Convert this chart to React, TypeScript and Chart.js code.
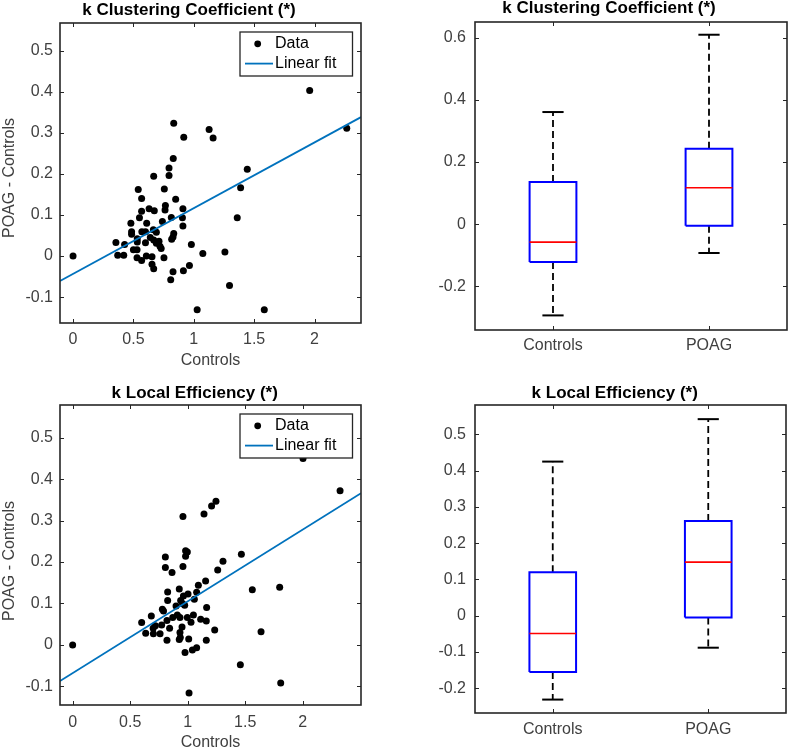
import React, { useEffect, useRef } from 'react';
import { Chart, registerables } from 'chart.js';

Chart.register(...registerables);

const FONT = '"Liberation Sans", Arial, Helvetica, sans-serif';
const TICK_COLOR = '#404040';
const AXIS_COLOR = '#262626';

// ---------- k Clustering Coefficient : scatter ----------
const ccControls = [
  0, 1.96, 2.267, 0.834, 0.917, 1.127, 1.16, 0.83, 0.795, 0.795, 0.668, 1.443, 1.388, 0.54, 0.756,
  0.568, 0.85, 0.765, 0.63, 0.673, 0.568, 0.762, 0.91, 1.36, 0.814, 0.906, 0.479, 0.74, 0.55, 0.61,
  0.91, 0.485, 0.485, 0.57, 0.6, 0.69, 0.665, 0.834, 0.828, 0.817, 0.532, 0.64, 0.355, 0.427, 0.532,
  0.6, 0.668, 0.712, 0.69, 0.72, 0.73, 0.5, 0.53, 0.98, 1.075, 1.258, 0.37, 0.42, 0.53, 0.568,
  0.607, 0.654, 0.753, 0.654, 0.668, 0.964, 0.914, 0.828, 0.809, 1.296, 1.028, 1.584,
];
const ccDiff = [
  0, 0.403, 0.311, 0.323, 0.289, 0.308, 0.287, 0.237, 0.214, 0.196, 0.194, 0.211, 0.166, 0.162, 0.163,
  0.14, 0.138, 0.123, 0.115, 0.11, 0.109, 0.112, 0.115, 0.093, 0.094, 0.093, 0.08, 0.084, 0.093, 0.08,
  0.073, 0.059, 0.053, 0.059, 0.059, 0.058, 0.064, 0.055, 0.046, 0.041, 0.042, 0.045, 0.033, 0.028, 0.034,
  0.032, 0.039, 0.036, 0.031, 0.024, 0.018, 0.015, 0.015, 0.028, 0.006, 0.01, 0.002, 0.002, -0.004, -0.011,
  0, -0.002, -0.004, -0.02, -0.031, -0.023, -0.036, -0.038, -0.058, -0.072, -0.131, -0.131,
];
const ccFitX = [-0.108, 2.385];
const ccFitY = [-0.061, 0.338];
const ccXTicks = [0, 0.5, 1, 1.5, 2];
const ccYTicks = [-0.1, 0, 0.1, 0.2, 0.3, 0.4, 0.5];

// ---------- k Local Efficiency : scatter ----------
const leControls = [
  0, 2.003, 2.325, 1.246, 1.208, 1.142, 0.959, 0.982, 0.997, 0.982, 1.467, 0.806, 1.307, 0.806, 0.959,
  0.864, 1.261, 1.156, 1.093, 1.562, 1.8, 0.826, 0.927, 1.003, 1.078, 0.826, 0.963, 1.058, 0.939, 0.974,
  0.899, 1.165, 0.78, 0.684, 0.91, 0.87, 0.933, 0.997, 1.05, 1.113, 1.162, 0.82, 0.6, 0.774, 0.719,
  1.029, 0.843, 0.951, 0.635, 0.702, 0.76, 0.933, 1.235, 1.638, 0.82, 0.927, 1.009, 1.162, 0.936, 0.977,
  1.041, 1.078, 1.458, 1.809, 1.012, 0.7, 0.79, 0.955,
];
const leDiff = [
  0, 0.45, 0.372, 0.347, 0.335, 0.316, 0.31, 0.227, 0.224, 0.214, 0.219, 0.212, 0.202, 0.187, 0.189,
  0.175, 0.181, 0.154, 0.144, 0.133, 0.139, 0.128, 0.135, 0.123, 0.127, 0.107, 0.118, 0.11, 0.107, 0.096,
  0.094, 0.09, 0.086, 0.07, 0.072, 0.066, 0.066, 0.066, 0.072, 0.062, 0.058, 0.059, 0.054, 0.048, 0.046,
  0.055, 0.04, 0.043, 0.028, 0.027, 0.027, 0.03, 0.036, 0.032, 0.011, 0.013, 0.014, 0.011, 0.018, -0.018,
  -0.012, -0.007, -0.048, -0.092, -0.116, 0.04, 0.082, 0.1,
];
const leFitX = [-0.11, 2.507];
const leFitY = [-0.087, 0.366];
const leXTicks = [0, 0.5, 1, 1.5, 2];
const leYTicks = [-0.1, 0, 0.1, 0.2, 0.3, 0.4, 0.5];

// ---------- box plots ----------
const groups = ['Controls', 'POAG'];

const ccBoxLower = [-0.294, -0.093];
const ccBoxQ1 = [-0.122, -0.005];
const ccBoxMedian = [-0.058, 0.117];
const ccBoxQ3 = [0.136, 0.243];
const ccBoxUpper = [0.361, 0.61];
const ccBoxYTicks = [-0.2, 0, 0.2, 0.4, 0.6];

const leBoxLower = [-0.231, -0.088];
const leBoxQ1 = [-0.155, -0.005];
const leBoxMedian = [-0.049, 0.148];
const leBoxQ3 = [0.12, 0.261];
const leBoxUpper = [0.425, 0.542];
const leBoxYTicks = [-0.2, -0.1, 0, 0.1, 0.2, 0.3, 0.4, 0.5];

const BOX_HALF = 0.15;
const CAP_HALF = 0.068;

const fmt = (v: any) => String(parseFloat(Number(v).toFixed(2)));

const framePlugin = {
  id: 'frame',
  afterDatasetsDraw(chart: any, _args: any, opts: any) {
    const { ctx, chartArea: a } = chart;
    const xs = chart.scales.x;
    const ys = chart.scales.y;
    ctx.save();
    // inward ticks on all four sides
    ctx.strokeStyle = AXIS_COLOR;
    ctx.lineWidth = 1;
    ctx.beginPath();
    const TL = 4;
    xs.ticks.forEach((t: any) => {
      const p = Math.round(xs.getPixelForValue(t.value)) + 0.5;
      ctx.moveTo(p, a.bottom);
      ctx.lineTo(p, a.bottom - TL);
      ctx.moveTo(p, a.top);
      ctx.lineTo(p, a.top + TL);
    });
    ys.ticks.forEach((t: any) => {
      const p = Math.round(ys.getPixelForValue(t.value)) + 0.5;
      ctx.moveTo(a.left, p);
      ctx.lineTo(a.left + TL, p);
      ctx.moveTo(a.right, p);
      ctx.lineTo(a.right - TL, p);
    });
    ctx.stroke();
    ctx.lineWidth = 1.6;
    ctx.strokeRect(a.left, a.top, a.right - a.left, a.bottom - a.top);

    // legend
    if (opts.legend) {
      const w = 112.5;
      const h = 44;
      const lx = a.right - 8.5 - w;
      const ly = a.top + 9;
      ctx.fillStyle = '#ffffff';
      ctx.fillRect(lx, ly, w, h);
      ctx.strokeStyle = AXIS_COLOR;
      ctx.lineWidth = 1.3;
      ctx.strokeRect(lx, ly, w, h);
      ctx.fillStyle = '#000';
      ctx.beginPath();
      ctx.arc(lx + 17.7, ly + 11.8, 3.4, 0, Math.PI * 2);
      ctx.fill();
      ctx.strokeStyle = '#0072BD';
      ctx.lineWidth = 1.8;
      ctx.beginPath();
      ctx.moveTo(lx + 5, ly + 31.6);
      ctx.lineTo(lx + 33, ly + 31.6);
      ctx.stroke();
      ctx.fillStyle = '#000';
      ctx.font = `16px ${FONT}`;
      ctx.textAlign = 'left';
      ctx.textBaseline = 'middle';
      ctx.fillText('Data', lx + 35, ly + 12);
      ctx.fillText('Linear fit', lx + 35, ly + 31.6);
    }

    // title
    ctx.fillStyle = '#000';
    ctx.font = `bold 17px ${FONT}`;
    ctx.textAlign = 'center';
    ctx.textBaseline = 'middle';
    ctx.fillText(opts.title, opts.titleX, opts.titleY);

    // y axis title
    if (opts.yTitle) {
      ctx.save();
      ctx.translate(opts.yTitleX, opts.yTitleY);
      ctx.rotate(-Math.PI / 2);
      ctx.fillStyle = TICK_COLOR;
      ctx.font = `16px ${FONT}`;
      ctx.textAlign = 'center';
      ctx.textBaseline = 'middle';
      ctx.fillText(opts.yTitle, 0, 0);
      ctx.restore();
    }
    ctx.restore();
  },
};

const tickFont = { family: FONT, size: 16 };
const noGrid = { display: false, drawTicks: false, tickLength: 0 };

function scatterConfig(
  xs: number[], ys: number[], fitX: number[], fitY: number[],
  xMin: number, xMax: number, yMin: number, yMax: number,
  xTicks: number[], yTicks: number[], padding: any, frame: any, xPad: number,
): any {
  return {
    type: 'scatter',
    data: {
      datasets: [
        {
          label: 'Linear fit',
          data: fitX.map((x, i) => ({ x, y: fitY[i] })),
          showLine: true,
          borderColor: '#0072BD',
          backgroundColor: '#0072BD',
          borderWidth: 1.8,
          pointRadius: 0,
          fill: false,
        },
        {
          label: 'Data',
          data: xs.map((x, i) => ({ x, y: ys[i] })),
          showLine: false,
          pointRadius: 3.5,
          pointBackgroundColor: '#000',
          pointBorderWidth: 0,
          pointBorderColor: '#000',
        },
      ],
    },
    options: {
      animation: false,
      responsive: false,
      events: [],
      layout: { padding },
      plugins: { legend: { display: false }, tooltip: { enabled: false }, frame },
      scales: {
        x: {
          type: 'linear',
          min: xMin,
          max: xMax,
          afterBuildTicks: (s: any) => { s.ticks = xTicks.map((v) => ({ value: v })); },
          afterFit: (s: any) => { s.height = 47; },
          grid: noGrid,
          border: { display: false },
          ticks: { padding: xPad, color: TICK_COLOR, font: tickFont, callback: fmt, maxRotation: 0, autoSkip: false },
          title: { display: true, text: 'Controls', color: TICK_COLOR, font: tickFont, padding: 0 },
        },
        y: {
          type: 'linear',
          min: yMin,
          max: yMax,
          afterBuildTicks: (s: any) => { s.ticks = yTicks.map((v) => ({ value: v })); },
          afterFit: (s: any) => { s.width = 60; },
          grid: noGrid,
          border: { display: false },
          ticks: { padding: 7, color: TICK_COLOR, font: tickFont, callback: fmt, autoSkip: false },
        },
      },
    },
    plugins: [framePlugin],
  };
}

function seg(points: { x: number; y: number }[], color: string, width: number, dash: number[] = []) {
  return {
    data: points,
    showLine: true,
    borderColor: color,
    backgroundColor: color,
    borderWidth: width,
    borderDash: dash,
    pointRadius: 0,
    fill: false,
  };
}

function boxConfig(
  lower: number[], q1: number[], med: number[], q3: number[], upper: number[],
  yMin: number, yMax: number, yTicks: number[], padding: any, frame: any, xPad: number,
): any {
  const medians: any[] = [];
  const boxes: any[] = [];
  const caps: any[] = [];
  const whiskers: any[] = [];
  groups.forEach((_, i) => {
    const c = i + 1;
    medians.push(seg([{ x: c - BOX_HALF, y: med[i] }, { x: c + BOX_HALF, y: med[i] }], '#FF0000', 1.6));
    boxes.push(seg([
      { x: c - BOX_HALF, y: q1[i] }, { x: c + BOX_HALF, y: q1[i] },
      { x: c + BOX_HALF, y: q3[i] }, { x: c - BOX_HALF, y: q3[i] }, { x: c - BOX_HALF, y: q1[i] },
    ], '#0000FF', 2));
    caps.push(seg([{ x: c - CAP_HALF, y: upper[i] }, { x: c + CAP_HALF, y: upper[i] }], '#000', 2));
    caps.push(seg([{ x: c - CAP_HALF, y: lower[i] }, { x: c + CAP_HALF, y: lower[i] }], '#000', 2));
    whiskers.push(seg([{ x: c, y: q3[i] }, { x: c, y: upper[i] }], '#000', 1.8, [7, 4]));
    whiskers.push(seg([{ x: c, y: q1[i] }, { x: c, y: lower[i] }], '#000', 1.8, [7, 4]));
  });
  return {
    type: 'scatter',
    data: { datasets: [...medians, ...boxes, ...caps, ...whiskers] },
    options: {
      animation: false,
      responsive: false,
      events: [],
      layout: { padding },
      plugins: { legend: { display: false }, tooltip: { enabled: false }, frame },
      scales: {
        x: {
          type: 'linear',
          min: 0.5,
          max: 2.5,
          afterBuildTicks: (s: any) => { s.ticks = groups.map((_, i) => ({ value: i + 1 })); },
          afterFit: (s: any) => { s.height = 30; },
          grid: noGrid,
          border: { display: false },
          ticks: {
            padding: xPad, color: TICK_COLOR, font: tickFont, maxRotation: 0, autoSkip: false,
            callback: (v: any) => groups[Math.round(Number(v)) - 1] ?? '',
          },
        },
        y: {
          type: 'linear',
          min: yMin,
          max: yMax,
          afterBuildTicks: (s: any) => { s.ticks = yTicks.map((v) => ({ value: v })); },
          afterFit: (s: any) => { s.width = 80; },
          grid: noGrid,
          border: { display: false },
          ticks: { padding: 9, color: TICK_COLOR, font: tickFont, callback: fmt, autoSkip: false },
        },
      },
    },
    plugins: [framePlugin],
  };
}

function Panel(props: { left: number; top: number; width: number; height: number; make: () => any }) {
  const ref = useRef<HTMLCanvasElement>(null);
  useEffect(() => {
    const chart = new Chart(ref.current as HTMLCanvasElement, props.make());
    return () => chart.destroy();
  }, []);
  return (
    <canvas
      ref={ref}
      width={props.width}
      height={props.height}
      style={{ position: 'absolute', left: props.left, top: props.top, width: props.width, height: props.height }}
    />
  );
}

export default function App() {
  useEffect(() => {
    document.body.style.margin = '0';
    document.body.style.background = '#ffffff';
  }, []);
  return (
    <div style={{ position: 'relative', width: 789, height: 752, background: '#fff', overflow: 'hidden' }}>
      <Panel
        left={0} top={0} width={395} height={378}
        make={() => scatterConfig(
          ccControls, ccDiff, ccFitX, ccFitY, -0.108, 2.385, -0.163, 0.567, ccXTicks, ccYTicks,
          { left: 0, top: 23, right: 34, bottom: 8 },
          { title: 'k Clustering Coefficient (*)', titleX: 189, titleY: 10.5, yTitle: 'POAG - Controls', yTitleX: 9.5, yTitleY: 178, legend: true },
          7,
        )}
      />
      <Panel
        left={395} top={0} width={394} height={378}
        make={() => boxConfig(
          ccBoxLower, ccBoxQ1, ccBoxMedian, ccBoxQ3, ccBoxUpper, -0.341, 0.651, ccBoxYTicks,
          { left: 0, top: 22, right: 2, bottom: 18 },
          { title: 'k Clustering Coefficient (*)', titleX: 214, titleY: 8.5 },
          5.5,
        )}
      />
      <Panel
        left={0} top={378} width={395} height={374}
        make={() => scatterConfig(
          leControls, leDiff, leFitX, leFitY, -0.11, 2.507, -0.145, 0.579, leXTicks, leYTicks,
          { left: 0, top: 27, right: 34, bottom: 0 },
          { title: 'k Local Efficiency (*)', titleX: 194.7, titleY: 15.3, yTitle: 'POAG - Controls', yTitleX: 9.5, yTitleY: 183, legend: true },
          8,
        )}
      />
      <Panel
        left={395} top={378} width={394} height={374}
        make={() => boxConfig(
          leBoxLower, leBoxQ1, leBoxMedian, leBoxQ3, leBoxUpper, -0.268, 0.581, leBoxYTicks,
          { left: 0, top: 27, right: 3, bottom: 9 },
          { title: 'k Local Efficiency (*)', titleX: 219.7, titleY: 15.3 },
          7,
        )}
      />
    </div>
  );
}
